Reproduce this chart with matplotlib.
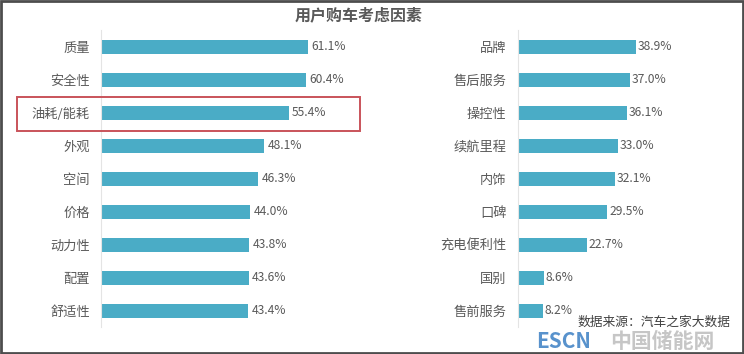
import matplotlib.pyplot as plt
from matplotlib.patches import Rectangle

plt.rcParams['font.family'] = ['Noto Sans CJK SC', 'DejaVu Sans']

left_labels = ['质量', '安全性', '油耗/能耗', '外观', '空间', '价格', '动力性', '配置', '舒适性']
left_values = [61.1, 60.4, 55.4, 48.1, 46.3, 44.0, 43.8, 43.6, 43.4]
right_labels = ['品牌', '售后服务', '操控性', '续航里程', '内饰', '口碑', '充电便利性', '国别', '售前服务']
right_values = [38.9, 37.0, 36.1, 33.0, 32.1, 29.5, 22.7, 8.6, 8.2]

BAR = '#4aacc6'
TXT = '#595959'

fig = plt.figure(figsize=(7.44, 3.54), dpi=100)
fig.text(0.482, 0.958, '用户购车考虑因素', ha='center', va='center',
         fontsize=11.5, fontweight='bold', color=TXT)


def draw(ax, labels, values, xmax):
    y = list(range(len(labels)))
    ax.barh(y, values, height=0.45, color=BAR)
    ax.set_ylim(len(labels) - 0.5, -0.5)
    ax.set_xlim(0, xmax)
    ax.set_yticks(y)
    ax.set_yticklabels(labels, fontsize=9.5, color=TXT)
    ax.set_xticks([])
    ax.tick_params(axis='y', length=0, pad=8)
    for s in ['top', 'right', 'bottom']:
        ax.spines[s].set_visible(False)
    ax.spines['left'].set_color('#e4e4e4')
    for yi, v in zip(y, values):
        ax.text(v + xmax * 0.015, yi, f'{v:.1f}%', va='center', ha='left',
                fontsize=8.7, color=TXT)


ax1 = fig.add_axes([0.1358, 0.075, 0.3185, 0.839])
draw(ax1, left_labels, left_values, 70)
ax2 = fig.add_axes([0.696, 0.075, 0.183, 0.839])
draw(ax2, right_labels, right_values, 45)

# red highlight box around 油耗/能耗
fig.add_artist(Rectangle((17 / 744, 1 - 131 / 354), 343 / 744, 34 / 354,
                         transform=fig.transFigure, fill=False,
                         edgecolor='#c9535a', linewidth=1.4))

# outer frame
fig.add_artist(Rectangle((0.002, 0.003), 0.996, 0.994, transform=fig.transFigure,
                         fill=False, edgecolor='#4d4d4d', linewidth=2))

# source + watermark
fig.text(0.72, 0.036, 'ESCN', fontsize=15, fontweight='bold', color='#3b7fc4',
         alpha=0.85, ha='left', va='center')
fig.text(0.82, 0.036, '中国储能网', fontsize=15, fontweight='bold', color='#b8b8b8',
         alpha=0.8, ha='left', va='center')
fig.text(0.982, 0.09, '数据来源：汽车之家大数据', fontsize=9.2, color='#404040',
         ha='right', va='center')

fig.savefig('out.png', dpi=100)
